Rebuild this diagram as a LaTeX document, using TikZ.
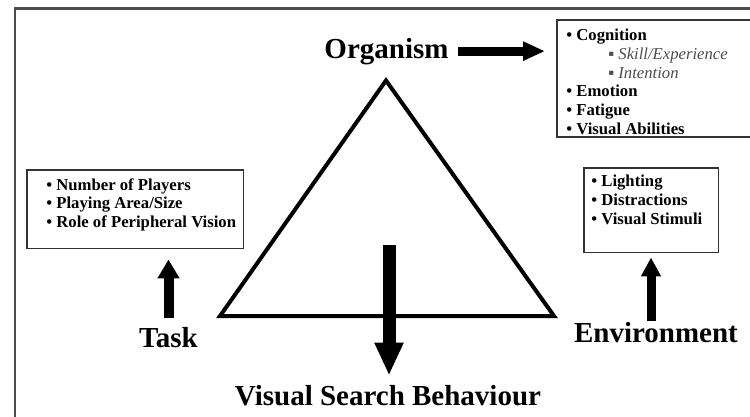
\documentclass[tikz,border=0pt]{standalone}
\usepackage{fontspec}
\setmainfont{Liberation Serif}
\usetikzlibrary{arrows.meta,positioning}

\begin{document}
\begin{tikzpicture}[x=0.02cm, y=-0.02cm,
    factor/.style={font=\fontsize{16.5}{18}\selectfont\bfseries, inner sep=0pt, anchor=base},
    listbox/.style={draw=black!80, line width=0.03cm, anchor=north west, inner sep=0pt},
    listtext/.style={font=\fontsize{9.5}{10.6}\selectfont\bfseries, align=left, anchor=north west, inner sep=0pt},
    fat/.style n args={3}{line width=#1, -{Triangle[width=#2, length=#3]}}]
     \useasboundingbox (0,0) rectangle (750,416);
     \clip (0,0) rectangle (750,416);
     % frame round the figure (only top and left show)
     \draw[black!70, line width=0.06cm] (15,440) -- (15,8) -- (790,8);

     % the triangle of constraints
     \coordinate (apex) at (386,80.5);
     \coordinate (baseleft) at (220,316);
     \coordinate (baseright) at (554,316);
     \draw[line width=0.08cm, line join=miter] (apex) -- (baseright) -- (baseleft) -- cycle;

     % corner labels
     \node[factor] (organism) at (386.5,58) {Organism};
     \node[factor] (task) at (168.5,347) {Task};
     \node[factor] (environment) at (656,342) {Environment};
     \node[factor] (vsb) at (388,405) {Visual Search Behaviour};

     % boxes with the factors (the right side of the first one lies past the edge)
     \coordinate (cogcorner) at (557,20);
     \draw[black!80, line width=0.03cm] (790,20) -- (cogcorner) -- (557,137) -- (790,137);
     \node[listtext] (coglist) at (566,29) {%
        • Cognition\\
        \hspace*{0.84cm}{\mdseries\itshape\color{black!70}\fontsize{9.5}{10.6}\selectfont ▪ Skill/Experience}\\
        \hspace*{0.84cm}{\mdseries\itshape\color{black!70}\fontsize{9.5}{10.6}\selectfont ▪ Intention}\\
        • Emotion\\
        • Fatigue\\
        • Visual Abilities};
     \node[listbox, minimum width=4.34cm, minimum height=1.58cm] (taskbox) at (26,169) {};
     \node[listtext] (tasklist) at (46,178) {%
        • Number of Players\\
        • Playing Area/Size\\
        • Role of Peripheral Vision};
     \node[listbox, minimum width=2.7cm, minimum height=1.7cm] (envbox) at (583,167) {};
     \node[listtext] (envlist) at (591,175) {%
        • Lighting\\
        • Distractions\\
        • Visual Stimuli};

     % thick arrows
     \draw[fat={0.18cm}{0.36cm}{0.44cm}, shorten <=0.18cm, shorten >=0.24cm]
          (organism.east) -- (organism.east -| cogcorner);
     \coordinate (vsbstart) at (389,245);
     \draw[fat={0.26cm}{0.54cm}{0.66cm}, shorten >=0.18cm]
          (vsbstart) -- (vsbstart |- vsb.north);
     \draw[fat={0.2cm}{0.42cm}{0.38cm}, shorten <=0.18cm, shorten >=0.2cm]
          (task.north) -- (task.north |- taskbox.south);
     \draw[fat={0.18cm}{0.38cm}{0.38cm}, shorten <=0.02cm, shorten >=0.08cm]
          ([xshift=-0.1cm]environment.north) -- ([xshift=-0.1cm]environment.north |- envbox.south);
\end{tikzpicture}
\end{document}
